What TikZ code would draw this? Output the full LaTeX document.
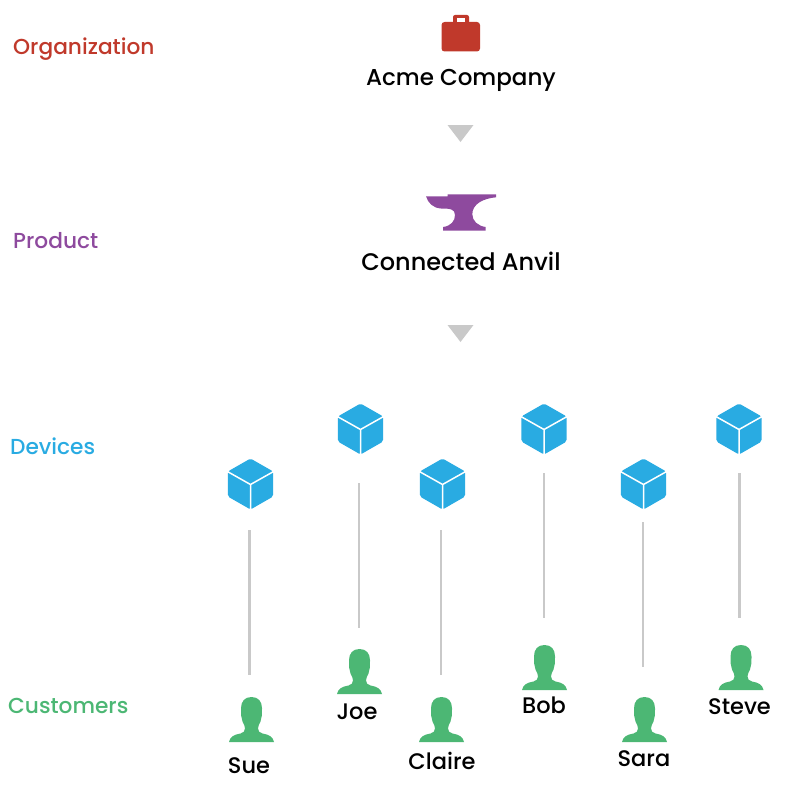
\documentclass[tikz,border=0pt]{standalone}
\usepackage{fontspec}
\setmainfont{Poppins Medium}
\definecolor{orgc}{HTML}{C0392B}
\definecolor{prodc}{HTML}{8E4A9E}
\definecolor{devc}{HTML}{29ABE2}
\definecolor{custc}{HTML}{4CB774}
\definecolor{linec}{HTML}{C9C9C9}
\tikzset{
  x=1pt,y=-1pt,
  tier/.style={anchor=west,inner sep=0pt,font=\fontsize{21.7}{25}\selectfont},
  title/.style={inner sep=0pt,text=black,font=\fontsize{23}{27}\selectfont},
  wide title/.style={inner sep=0pt,text=black,font=\fontsize{24}{28}\selectfont},
  who/.style={inner sep=0pt,text=black,font=\fontsize{22.5}{26}\selectfont},
  conn/.style={draw=linec,line width=2.6pt},
  chevron/.style={fill=linec},
  cubeicon/.pic={
    \fill[devc,rounded corners=2pt] (0,-25.5)--(22.7,-12.5)--(22.7,12.5)--(0,25.5)--(-22.7,12.5)--(-22.7,-12.5)--cycle;
    \draw[white,line width=1.5pt] (-24,-13)--(0,0.5)--(24,-13) (0,0.5)--(0,27);
  },
  personicon/.pic={
    \fill[custc] (0,-22.5)
      .. controls (7,-22.5) and (10.5,-18) .. (10.5,-11)
      .. controls (10.5,-5) and (10.5,-2) .. (9,2)
      .. controls (7.5,5) and (6.5,7) .. (6.5,9)
      .. controls (6.5,12) and (8,13) .. (11,14)
      .. controls (17,15) and (21.5,17) .. (22.5,22.5)
      -- (-22.5,22.5)
      .. controls (-21.5,17) and (-17,15) .. (-11,14)
      .. controls (-8,13) and (-6.5,12) .. (-6.5,9)
      .. controls (-6.5,7) and (-7.5,5) .. (-9,2)
      .. controls (-10.5,-2) and (-10.5,-5) .. (-10.5,-11)
      .. controls (-10.5,-18) and (-7,-22.5) .. (0,-22.5) -- cycle;
  }
}
\begin{document}
\begin{tikzpicture}
\useasboundingbox (0,0) rectangle (800,800);
% tier labels
\node[tier,text=orgc] (lorg) at (13,49) {Organization};
\node[tier,text=prodc] (lprod) at (13,240.5) {Product};
\node[tier,text=devc] (ldev) at (10,446.5) {Devices};
\node[tier,text=custc] (lcust) at (8,705.5) {Customers};
% briefcase
\fill[orgc,rounded corners=3pt] (441.5,22)rectangle(480,51.5);
\fill[orgc,even odd rule,rounded corners=2pt] (453,24)--(453,15)--(469,15)--(469,24)--cycle
   (457,22.5)--(457,18.5)--(465,18.5)--(465,22.5)--cycle;
\fill[white] (457,18.5) rectangle (465,22);
\node[title] (acme) at (461,80) {Acme Company};
% anvil
\fill[prodc] (426,196.3)--(447.7,196.3)--(447.7,194.3)--(496,194.3)--(496,197.3)
  .. controls (483,198.5) and (472.3,204) .. (472.3,214.3)
  .. controls (472.3,221) and (478,226) .. (485.7,227)
  -- (485.7,230.5)--(443,230.5)--(443,227)
  .. controls (451,226) and (455,221) .. (455,215)
  .. controls (455,209) and (450,208.5) .. (441,208.5)
  .. controls (433,208) and (428,203) .. (426,196.3) -- cycle;
\node[wide title] (anvil) at (461,261) {Connected Anvil};
% arrow triangles
\fill[chevron] (447.5,125)--(473.5,125)--(460.5,142)--cycle;
\fill[chevron] (447.5,325)--(473.5,325)--(460.5,342)--cycle;
% devices
\pic at (250.5,484) {cubeicon};
\pic at (360.5,429) {cubeicon};
\pic at (442.5,484) {cubeicon};
\pic at (544,429) {cubeicon};
\pic at (643.5,484) {cubeicon};
\pic at (739,429) {cubeicon};
% customers
\pic at (251.5,719.5) {personicon};
\pic at (359.5,671.5) {personicon};
\pic at (441.5,719.5) {personicon};
\pic at (544.5,667.5) {personicon};
\pic at (644.5,719.5) {personicon};
\pic at (741,667.5) {personicon};
% connector ends
\coordinate (d1) at (249.5,530); \coordinate (c1) at (249.5,675);
\coordinate (d2) at (359,483);   \coordinate (c2) at (359,628);
\coordinate (d3) at (441,530);   \coordinate (c3) at (441,675);
\coordinate (d4) at (544,473);   \coordinate (c4) at (544,618);
\coordinate (d5) at (643,522);   \coordinate (c5) at (643,667);
\coordinate (d6) at (739.5,473); \coordinate (c6) at (739.5,618);
\foreach \i in {1,...,6} \draw[conn] (d\i) -- (c\i);
% names
\node[who] (sue) at (249,766) {Sue};
\node[who] (joe) at (357,711.5) {Joe};
\node[who] (claire) at (442,761) {Claire};
\node[who] (bob) at (544,705) {Bob};
\node[who] (sara) at (644,759) {Sara};
\node[who] (steve) at (739.5,707) {Steve};
\end{tikzpicture}
\end{document}
